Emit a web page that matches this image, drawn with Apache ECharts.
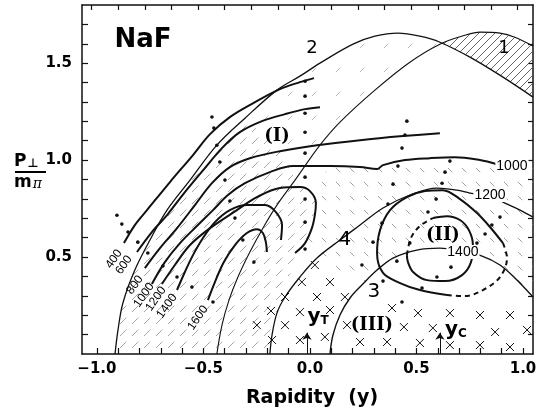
<!DOCTYPE html>
<html><head><meta charset="utf-8">
<script src="https://cdn.jsdelivr.net/npm/echarts@6.0.0/dist/echarts.min.js"></script>
<style>html,body{margin:0;padding:0;background:#fff}#c{width:539px;height:413px}</style>
</head><body><div id="c"></div>
<script>
// ---------- data (rapidity y, P_perp / m_pi) ----------
const curve1 = [[-0.437,0],[-0.413,0.149],[-0.380,0.278],[-0.338,0.397],[-0.282,0.526],[-0.221,0.649],[-0.155,0.768],[-0.070,0.897],[0.047,1.077],[0.141,1.196],[0.305,1.361],[0.469,1.505],[0.610,1.598],[0.728,1.644],[0.798,1.660],[0.892,1.655],[0.962,1.634],[1.047,1.588]];
const curve2 = [[-0.915,0],[-0.901,0.124],[-0.878,0.263],[-0.822,0.433],[-0.751,0.588],[-0.671,0.742],[-0.563,0.897],[-0.437,1.077],[-0.305,1.216],[-0.155,1.361],[-0.047,1.433],[0.047,1.5],[0.202,1.598],[0.305,1.639],[0.413,1.655],[0.516,1.639],[0.610,1.608],[0.751,1.531],[0.906,1.428],[1.047,1.325]];
const curve3 = [[0.094,0],[0.108,0.098],[0.141,0.201],[0.188,0.289],[0.244,0.356],[0.315,0.433],[0.390,0.495],[0.502,0.536],[0.610,0.546],[0.718,0.526],[0.808,0.505],[0.892,0.459],[0.962,0.392],[1.047,0.294]];
const curve4 = [[-0.188,0],[-0.178,0.098],[-0.155,0.211],[-0.117,0.294],[-0.047,0.397],[0.033,0.495],[0.141,0.588],[0.235,0.665],[0.343,0.753],[0.469,0.820],[0.596,0.856],[0.690,0.845],[0.751,0.830],[0.845,0.814],[0.915,0.778],[0.986,0.742],[1.047,0.706]];

const contour400 = [[-0.873,0.572],[-0.822,0.665],[-0.765,0.742],[-0.657,0.887],[-0.549,1.026],[-0.469,1.134],[-0.376,1.222],[-0.258,1.299],[-0.141,1.366],[-0.047,1.402],[0.019,1.423]];
const contour600 = [[-0.812,0.526],[-0.742,0.629],[-0.667,0.722],[-0.587,0.835],[-0.493,0.959],[-0.413,1.062],[-0.329,1.144],[-0.225,1.201],[-0.117,1.237],[-0.023,1.263],[0.047,1.273]];
const contour800 = [[-0.775,0.443],[-0.704,0.546],[-0.624,0.649],[-0.540,0.768],[-0.460,0.881],[-0.376,0.964],[-0.282,1.010],[-0.141,1.046],[0.033,1.077],[0.235,1.103],[0.437,1.124],[0.610,1.139]];
const contour1000 = [[-0.742,0.361],[-0.681,0.474],[-0.610,0.572],[-0.526,0.665],[-0.455,0.742],[-0.385,0.820],[-0.305,0.881],[-0.188,0.938],[-0.080,0.969],[0.094,0.969],[0.235,0.964],[0.315,0.954],[0.343,0.974],[0.446,1.0],[0.563,1.010],[0.681,1.015],[0.798,1.0],[0.878,0.979]];
const contour1200 = [[-0.695,0.361],[-0.634,0.459],[-0.563,0.562],[-0.469,0.649],[-0.343,0.742],[-0.249,0.809],[-0.141,0.856],[-0.047,0.861],[0,0.840],[0.028,0.778],[0.023,0.716],[0.009,0.649],[-0.023,0.572],[-0.070,0.521]];
const contour1400 = [[-0.624,0.330],[-0.587,0.423],[-0.549,0.510],[-0.502,0.598],[-0.446,0.680],[-0.376,0.742],[-0.296,0.768],[-0.211,0.768],[-0.160,0.732],[-0.131,0.665],[-0.136,0.588]];
const contour1600 = [[-0.479,0.278],[-0.446,0.371],[-0.404,0.474],[-0.352,0.562],[-0.296,0.624],[-0.249,0.644],[-0.221,0.624],[-0.207,0.577],[-0.202,0.526]];

const loop1200Solid = [[0.906,0.572],[0.845,0.655],[0.784,0.727],[0.704,0.799],[0.624,0.845],[0.540,0.840],[0.455,0.809],[0.376,0.742],[0.329,0.639],[0.315,0.521],[0.343,0.418],[0.423,0.366],[0.516,0.330],[0.643,0.304]];
const loop1200Dashed = [[0.643,0.304],[0.728,0.299],[0.812,0.330],[0.892,0.397],[0.925,0.495],[0.906,0.572]];
const loop1400Dashed = [[0.455,0.510],[0.474,0.598],[0.516,0.660],[0.577,0.701]];
const loop1400Solid = [[0.577,0.701],[0.643,0.711],[0.704,0.691],[0.746,0.639],[0.765,0.562],[0.756,0.474],[0.714,0.407],[0.634,0.376],[0.549,0.381],[0.484,0.423],[0.460,0.474],[0.455,0.510]];

const dotPoints = [[-0.906,0.716],[-0.883,0.670],[-0.854,0.629],[-0.808,0.577],[-0.761,0.521],[-0.690,0.454],[-0.624,0.397],[-0.554,0.345],[-0.455,0.268],
 [-0.460,1.222],[-0.451,1.165],[-0.437,1.077],[-0.423,0.990],[-0.399,0.897],[-0.376,0.789],[-0.352,0.701],[-0.315,0.588],[-0.263,0.474],
 [-0.023,1.407],[-0.023,1.330],[-0.023,1.242],[-0.023,1.144],[-0.023,1.036],[-0.023,0.912],[-0.023,0.799],[-0.023,0.680],[-0.023,0.541],
 [0.455,1.201],[0.446,1.129],[0.432,1.062],[0.413,0.969],[0.390,0.876],[0.366,0.773],
 [0.657,0.995],[0.634,0.938],[0.620,0.881],[0.592,0.799],[0.554,0.732],
 [0.469,0.572],[0.662,0.448],[0.596,0.397],[0.526,0.340],
 [0.892,0.706],[0.854,0.665],[0.822,0.619],[0.784,0.572],
 [0.296,0.577],[0.244,0.459],[0.343,0.376],[0.432,0.268],[0.408,0.479],[0.338,0.675]];

const crossPoints = [[0.023,0.459],[-0.038,0.371],[0.094,0.371],[-0.117,0.294],[0.033,0.294],[0.164,0.294],[-0.183,0.222],[-0.047,0.216],[0.094,0.227],
 [-0.249,0.149],[-0.117,0.149],[0.174,0.149],[0.441,0.139],[0.385,0.237],[0.507,0.211],[0.657,0.211],[0.798,0.201],[0.939,0.201],
 [-0.178,0.072],[-0.047,0.072],[0.070,0.088],[0.235,0.062],[0.362,0.062],[0.516,0.057],[0.657,0.046],[0.798,0.046],[0.939,0.036],
 [0.577,0.134],[0.869,0.113],[1.019,0.124]];

const contourLevels = ['400','600','800','1000','1200','1400','1600'];
const contourLabelPos = [[-0.920,0.490],[-0.873,0.459],[-0.822,0.356],[-0.779,0.304],[-0.723,0.284],[-0.671,0.247],[-0.526,0.186]];
const inlineLabels = ['1000','1200','1400'];
const inlineLabelPos = [[0.948,0.969],[0.845,0.820],[0.718,0.526]];
const curveNames = ['1','2','3','4'];
const curveNamePos = [[0.911,1.577],[0.009,1.577],[0.300,0.320],[0.164,0.588]];
const regionNames = ['(I)','(II)','(III)'];
const regionNamePos = [[-0.155,1.124],[0.624,0.613],[0.291,0.149]];
const titleText = 'NaF';
const titlePos = [-0.784,1.619];
const markerNames = ['T','C'];
const markerX = [-0.014, 0.610];
const markerTextPos = [[0.038,0.191],[0.685,0.124]];
const arrowTop = 0.11;

const xMin = -1.07, xMax = 1.047, yMin = 0, yMax = 1.8;
const bottomTicks = [-1.0,-0.9,-0.8,-0.7,-0.6,-0.5,-0.4,-0.3,-0.2,-0.1,0,0.1,0.2,0.3,0.4,0.5,0.6,0.7,0.8,0.9,1.0];
const bottomLabels = [-1.0,-0.5,0,0.5,1.0];
const topTicks = [-1.025,-0.9,-0.775,-0.65,-0.525,-0.4,-0.275,-0.15,-0.025,0.1,0.225,0.35,0.475,0.6,0.725,0.85,0.975];
const yTicks = [0.1,0.2,0.3,0.4,0.5,0.6,0.7,0.8,0.9,1.0,1.1,1.2,1.3,1.4,1.5,1.6,1.7];
const yLabels = [0.5,1.0,1.5];

// ---------- helpers ----------
function hatch(size, dir, dashLen, color, width) {
  const c = document.createElement('canvas');
  c.width = size; c.height = size;
  const g = c.getContext('2d');
  g.strokeStyle = color; g.lineWidth = width;
  if (dashLen) g.setLineDash([dashLen, size * Math.SQRT2 - dashLen]);
  for (let k = -1; k <= 1; k++) {
    g.beginPath();
    if (dir === '/') { g.moveTo(k * size, size); g.lineTo(k * size + size, 0); }
    else { g.moveTo(k * size, 0); g.lineTo(k * size + size, size); }
    g.stroke();
  }
  return c;
}
const patA = hatch(12, '/', 9, '#8a8a8a', 0.75);
const patB = hatch(14, '\\', 6, '#888', 0.8);
const patC = hatch(8, '/', null, '#555', 0.9);
const patD = hatch(24, '/', 6, '#aaa', 0.8);

function region(points, pat) {
  return {
    type: 'custom', silent: true, z: 1, clip: true,
    data: [[points[0][0], points[0][1]]],
    renderItem: (params, api) => ({
      type: 'polygon',
      shape: { points: points.map(p => api.coord(p)) },
      style: { fill: { image: pat, repeat: 'repeat' }, stroke: null }
    })
  };
}
function curve(data, width, dashed) {
  return { type: 'line', data, smooth: 0.35, symbol: 'none', silent: true, z: 3, clip: true,
    lineStyle: { color: '#111', width, type: dashed ? [5, 4] : 'solid', opacity: 1 } };
}

// hatched regions built from the curves
const regionA = curve2.slice(0, 9).concat([contour800[7]], contour1200.slice(7), curve4.slice(0, 4).reverse());
const regionB = contour1000.slice(9).concat([[xMax, 0.975], [xMax, curve3[curve3.length-1][1]]],
  curve3.slice(4).reverse(), [curve4[5]], contour1200.slice(8, 13).reverse());
const regionC = curve1.slice(12).concat([[xMax, curve2[curve2.length-1][1]]], curve2.slice(16).reverse());
const regionD = curve2.slice(8, 17).concat(curve1.slice(8, 12).reverse(), [contour800[7]]);

const F = 'DejaVu Sans';
const INK = '#000';
function textSeries(items, z) {
  return { type: 'scatter', silent: true, z: z || 6, symbolSize: 1,
    itemStyle: { color: 'rgba(0,0,0,0)', opacity: 1 }, data: items };
}

const contourLabelItems = contourLevels.map((t, i) => ({ value: contourLabelPos[i],
  label: { show: true, position: 'inside', formatter: t, rotate: 55, fontFamily: 'Liberation Sans', fontSize: 12, color: INK, opacity: 1 } }));
const inlineItems = inlineLabels.map((t, i) => ({ value: inlineLabelPos[i],
  label: { show: true, position: 'inside', formatter: t, fontFamily: 'Liberation Sans', fontSize: 14, color: INK, opacity: 1, backgroundColor: '#fff', padding: [0, 1] } }));
const curveNameItems = curveNames.map((t, i) => ({ value: curveNamePos[i],
  label: { show: true, position: 'inside', formatter: t, fontFamily: F, fontSize: i < 2 ? 18 : 20, color: INK, opacity: 1 } }));
const regionNameItems = regionNames.map((t, i) => ({ value: regionNamePos[i],
  label: { show: true, position: 'inside', formatter: t, fontFamily: 'DejaVu Serif', fontWeight: 'bold', fontSize: 18, color: INK, opacity: 1 } }));
const titleItem = [{ value: titlePos, label: { show: true, position: 'inside', formatter: titleText, fontFamily: F, fontWeight: 'bold', fontSize: 26, color: INK, opacity: 1 } }];
const markerItems = markerNames.map((t, i) => ({ value: markerTextPos[i],
  label: { show: true, position: 'inside', formatter: '{y|y}{s|' + t + '}', color: INK, opacity: 1,
    rich: { y: { fontFamily: F, fontWeight: 'bold', fontSize: 20, color: INK },
            s: { fontFamily: F, fontWeight: 'bold', fontSize: 12, color: INK, padding: [8, 0, 0, 0] } } } }));

const axisLineStyle = { color: '#111', width: 1.5 };
const option = {
  animation: false,
  backgroundColor: '#fff',
  grid: { left: 82, right: 6, top: 5, bottom: 59, containLabel: false, outerBoundsMode: 'none' },
  xAxis: [{
    type: 'value', min: xMin, max: xMax, position: 'bottom',
    axisLine: { onZero: false, lineStyle: axisLineStyle },
    axisTick: { inside: true, length: 6, customValues: bottomTicks, lineStyle: { color: '#111', width: 1.2 } },
    axisLabel: { customValues: bottomLabels, margin: 8, fontFamily: F, fontWeight: 'bold', fontSize: 15, color: INK,
      formatter: v => { const r = Math.round(v * 10) / 10; return (r < 0 ? '\u2212' : '') + Math.abs(r).toFixed(1); } },
    splitLine: { show: false },
    name: 'Rapidity  (y)', nameLocation: 'middle', nameGap: 35,
    nameTextStyle: { fontFamily: F, fontWeight: 'bold', fontSize: 19, color: INK, padding: [0, 0, 0, 9] }
  }, {
    type: 'value', min: xMin, max: xMax, position: 'top',
    axisLine: { onZero: false, lineStyle: axisLineStyle },
    axisTick: { inside: true, length: 5, customValues: topTicks, lineStyle: { color: '#111', width: 1.2 } },
    axisLabel: { show: false }, splitLine: { show: false }
  }],
  yAxis: [{
    type: 'value', min: yMin, max: yMax, position: 'left',
    axisLine: { onZero: false, lineStyle: axisLineStyle },
    axisTick: { inside: true, length: 6, customValues: yTicks, lineStyle: { color: '#111', width: 1.2 } },
    axisLabel: { customValues: yLabels, margin: 10, fontFamily: F, fontWeight: 'bold', fontSize: 15, color: INK,
      formatter: v => (Math.round(v * 10) / 10).toFixed(1) },
    splitLine: { show: false }
  }, {
    type: 'value', min: yMin, max: yMax, position: 'right',
    axisLine: { onZero: false, lineStyle: axisLineStyle },
    axisTick: { inside: true, length: 5, customValues: yTicks, lineStyle: { color: '#111', width: 1.2 } },
    axisLabel: { show: false }, splitLine: { show: false }
  }],
  graphic: [
    { type: 'text', left: 14, top: 153, style: { text: '{p|P}{s|\u22A5}', rich: {
      p: { fontFamily: F, fontWeight: 'bold', fontSize: 17, fill: INK },
      s: { fontFamily: F, fontWeight: 'bold', fontSize: 12, fill: INK, padding: [4, 0, 0, 1] } } } },
    { type: 'line', shape: { x1: 15, y1: 172, x2: 46, y2: 172 }, style: { stroke: INK, lineWidth: 2 } },
    { type: 'text', left: 14, top: 174, style: { text: '{m|m}{s|\u03C0}', rich: {
      m: { fontFamily: F, fontWeight: 'bold', fontSize: 17, fill: INK },
      s: { fontFamily: 'DejaVu Serif', fontStyle: 'italic', fontSize: 14, fill: INK, padding: [3, 0, 0, 1] } } } }
  ],
  series: [
    region(regionA, patA),
    region(regionB, patB),
    region(regionC, patC),
    region(regionD, patD),
    curve(curve1, 1.1), curve(curve2, 1.3), curve(curve3, 1.4), curve(curve4, 1.3),
    curve(contour400, 2), curve(contour600, 2), curve(contour800, 2), curve(contour1000, 2),
    curve(contour1200, 2), curve(contour1400, 2), curve(contour1600, 2),
    curve(loop1200Solid, 2), curve(loop1200Dashed, 2, true),
    curve(loop1400Solid, 2), curve(loop1400Dashed, 2, true),
    { type: 'line', data: [], silent: true, z: 4,
      markLine: { silent: true, symbol: ['none', 'arrow'], symbolSize: 7, label: { show: false },
        lineStyle: { color: '#111', width: 1, type: 'solid' },
        data: markerX.map(x => [{ coord: [x, 0] }, { coord: [x, arrowTop] }]) } },
    { type: 'scatter', silent: true, z: 5, data: dotPoints, symbol: 'circle', symbolSize: 3.6, itemStyle: { color: '#111', opacity: 1 } },
    { type: 'scatter', silent: true, z: 5, data: crossPoints, symbol: 'path://M0 0L10 10M10 0L0 10', symbolSize: 8,
      itemStyle: { color: 'rgba(0,0,0,0)', borderColor: '#111', borderWidth: 1, opacity: 1 } },
    textSeries(contourLabelItems), textSeries(inlineItems, 7), textSeries(curveNameItems),
    textSeries(regionNameItems), textSeries(titleItem), textSeries(markerItems)
  ]
};
const chart = echarts.init(document.getElementById('c'), null, { renderer: 'canvas' });
chart.setOption(option);
</script>
</body></html>
